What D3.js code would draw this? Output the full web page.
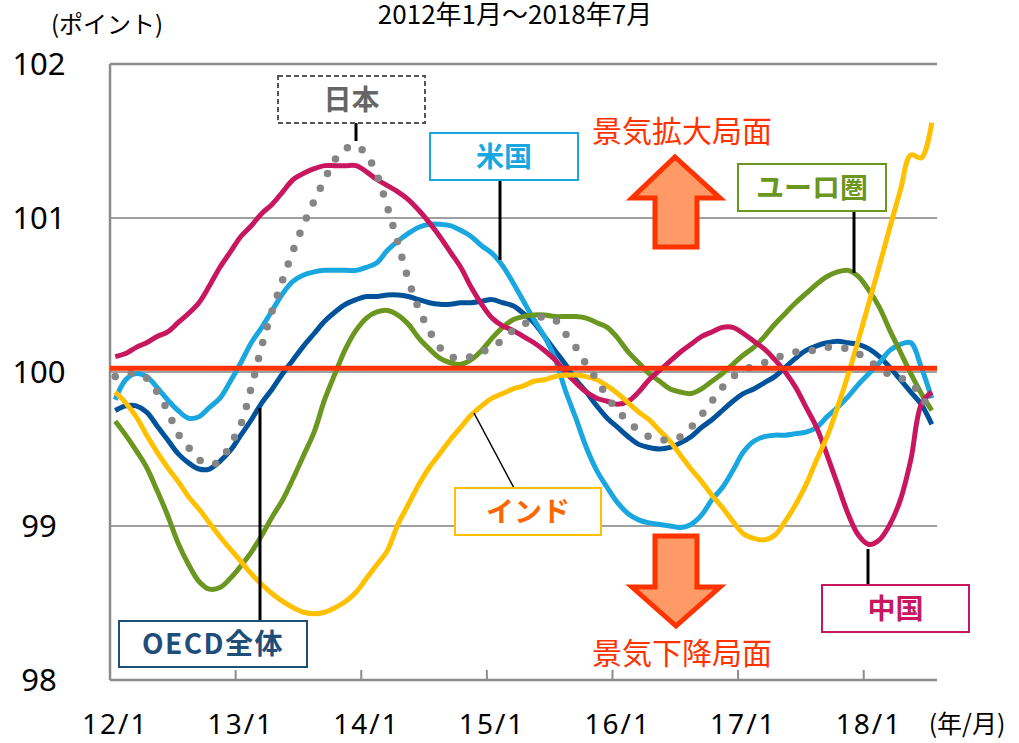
<!DOCTYPE html>
<html>
<head>
<meta charset="utf-8">
<script src="https://cdn.jsdelivr.net/npm/d3@7"></script>
<style>
  body { margin: 0; background: #fff; }
  svg { display: block; }
</style>
</head>
<body>
<div id="chart"></div>
<script>
// monthly composite leading indicators, 2012/1 - 2018/7
var months = d3.timeMonth.range(new Date(2012, 0, 1), new Date(2018, 7, 1));
var tickLabels = ["12/1", "13/1", "14/1", "15/1", "16/1", "17/1", "18/1"];
var yTicks = [98, 99, 100, 101, 102];

var japan = [99.97,99.99,99.99,99.96,99.87,99.75,99.60,99.51,99.43,99.40,
  99.42,99.53,99.66,99.90,100.17,100.40,100.60,100.79,100.96,101.11,
  101.25,101.38,101.45,101.47,101.41,101.28,101.07,100.84,100.60,100.41,
  100.27,100.16,100.10,100.09,100.10,100.13,100.16,100.21,100.27,100.31,
  100.34,100.36,100.34,100.25,100.16,100.05,99.95,99.84,99.75,99.68,
  99.62,99.58,99.56,99.56,99.58,99.64,99.72,99.81,99.90,99.97,
  100.01,100.04,100.06,100.09,100.11,100.13,100.14,100.14,100.16,100.16,
  100.15,100.12,100.07,100.03,99.98,99.96,99.93,99.84,99.74];

var us = [99.82,99.95,99.99,99.97,99.90,99.82,99.75,99.70,99.71,99.77,
  99.83,99.94,100.06,100.19,100.29,100.40,100.51,100.59,100.63,100.65,
  100.66,100.66,100.66,100.66,100.68,100.71,100.79,100.85,100.90,100.94,
  100.96,100.96,100.95,100.92,100.88,100.82,100.77,100.69,100.58,100.46,
  100.34,100.23,100.09,99.88,99.70,99.51,99.36,99.25,99.15,99.08,
  99.04,99.02,99.01,99.00,98.99,99.01,99.07,99.17,99.25,99.36,
  99.48,99.55,99.58,99.59,99.59,99.60,99.61,99.64,99.71,99.77,
  99.84,99.92,99.99,100.06,100.14,100.18,100.19,100.03,99.83];

var oecd = [99.75,99.78,99.78,99.74,99.65,99.56,99.47,99.41,99.37,99.37,
  99.42,99.49,99.59,99.69,99.80,99.89,99.99,100.08,100.17,100.25,
  100.33,100.39,100.44,100.47,100.49,100.49,100.50,100.50,100.49,100.47,
  100.45,100.44,100.44,100.45,100.45,100.46,100.47,100.45,100.43,100.38,
  100.32,100.23,100.14,100.05,99.95,99.87,99.78,99.70,99.64,99.58,
  99.53,99.51,99.50,99.51,99.54,99.58,99.64,99.69,99.75,99.81,
  99.86,99.89,99.93,99.97,100.03,100.09,100.14,100.17,100.19,100.20,
  100.19,100.18,100.15,100.10,100.03,99.95,99.87,99.79,99.66];

var euro = [99.68,99.59,99.49,99.38,99.23,99.07,98.89,98.75,98.64,98.59,
  98.60,98.66,98.74,98.83,98.94,99.06,99.17,99.31,99.46,99.61,
  99.82,99.99,100.15,100.27,100.35,100.39,100.40,100.37,100.31,100.22,
  100.15,100.09,100.06,100.05,100.08,100.14,100.22,100.29,100.34,100.36,
  100.37,100.37,100.36,100.36,100.36,100.35,100.32,100.29,100.22,100.13,
  100.06,99.99,99.94,99.89,99.87,99.86,99.89,99.94,99.99,100.05,
  100.11,100.16,100.23,100.31,100.38,100.45,100.51,100.57,100.62,100.65,
  100.66,100.62,100.53,100.42,100.27,100.13,99.99,99.86,99.75];

var india = [99.87,99.80,99.71,99.59,99.48,99.38,99.29,99.19,99.11,99.02,
  98.93,98.85,98.77,98.69,98.62,98.56,98.51,98.47,98.44,98.43,
  98.44,98.47,98.51,98.57,98.66,98.75,98.84,99.01,99.14,99.27,
  99.38,99.47,99.56,99.64,99.72,99.78,99.83,99.86,99.89,99.91,
  99.94,99.95,99.97,99.98,99.98,99.97,99.95,99.91,99.86,99.80,
  99.74,99.69,99.62,99.55,99.46,99.37,99.29,99.20,99.12,99.03,
  98.95,98.92,98.91,98.94,99.03,99.14,99.27,99.43,99.58,99.77,
  99.98,100.21,100.45,100.69,100.94,101.18,101.41,101.39,101.62];

var china = [100.10,100.12,100.16,100.19,100.23,100.26,100.32,100.38,100.45,100.56,
  100.68,100.78,100.88,100.95,101.03,101.09,101.17,101.25,101.29,101.32,
  101.34,101.34,101.34,101.34,101.30,101.25,101.21,101.17,101.12,101.05,
  100.97,100.88,100.78,100.68,100.55,100.44,100.35,100.30,100.27,100.23,
  100.19,100.14,100.08,100.00,99.93,99.87,99.83,99.81,99.79,99.81,
  99.87,99.95,100.01,100.07,100.13,100.18,100.23,100.26,100.29,100.29,
  100.25,100.20,100.15,100.08,100.00,99.90,99.77,99.64,99.46,99.27,
  99.08,98.94,98.88,98.91,99.01,99.17,99.43,99.79,99.87];

var refLevel = 100.025;

// set the dimensions and margins of the graph
var margin = { top: 64, right: 82, bottom: 63, left: 110 },
   width = 1019 - margin.left - margin.right,
   height = 743 - margin.top - margin.bottom;

var svg = d3.select("#chart")
   .append("svg")
   .attr("width", 1019)
   .attr("height", 743)
   .style("font-family", "'Noto Sans CJK JP', 'Noto Sans', sans-serif");

var g = svg.append("g")
   .attr("transform", "translate(" + margin.left + "," + margin.top + ")");

// category axis: each month sits in the middle of its slot
var x = d3.scaleLinear()
   .domain([-0.5, months.length - 0.5])
   .range([0, width]);

var y = d3.scaleLinear()
   .domain([98, 102])
   .range([height, 0]);

// gridlines
g.selectAll(".grid")
   .data(yTicks.slice(1))
   .enter().append("line")
   .attr("x1", 0).attr("x2", width)
   .attr("y1", d => y(d)).attr("y2", d => y(d))
   .attr("stroke", d => d === 102 ? "#8c8c8c" : "#a0a0a0")
   .attr("stroke-width", d => d === 102 ? 2.5 : 2);

// frame (left + bottom)
g.append("line").attr("x1", 0).attr("x2", 0).attr("y1", 0).attr("y2", height)
   .attr("stroke", "#8c8c8c").attr("stroke-width", 2.5);
g.append("line").attr("x1", 0).attr("x2", width).attr("y1", height).attr("y2", height)
   .attr("stroke", "#8c8c8c").attr("stroke-width", 2.5);

// bottom ticks, pointing inwards, at year boundaries
var yearIdx = tickLabels.map((d, i) => i * 12);
g.selectAll(".tick")
   .data(yearIdx.slice(1))
   .enter().append("line")
   .attr("x1", d => x(d - 0.5)).attr("x2", d => x(d - 0.5))
   .attr("y1", height).attr("y2", height - 10)
   .attr("stroke", "#8c8c8c").attr("stroke-width", 2);

// y labels
svg.selectAll(".ylab")
   .data(yTicks)
   .enter().append("text")
   .attr("x", 39)
   .attr("y", d => margin.top + y(d))
   .attr("dy", "0.36em")
   .attr("text-anchor", "middle")
   .style("font-family", "'Noto Sans', sans-serif")
   .style("font-size", "31px")
   .attr("fill", "#000")
   .text(d => d);

// x labels
svg.selectAll(".xlab")
   .data(tickLabels)
   .enter().append("text")
   .attr("x", (d, i) => margin.left + x(yearIdx[i]))
   .attr("y", 734)
   .attr("text-anchor", "middle")
   .style("font-family", "'Noto Sans', sans-serif")
   .style("font-size", "28px")
   .style("letter-spacing", "2px")
   .attr("fill", "#000")
   .text(d => d);

svg.append("text").attr("x", 967).attr("y", 733).attr("text-anchor", "middle")
   .style("font-size", "25px").text("(年/月)");
svg.append("text").attr("x", 107).attr("y", 33).attr("text-anchor", "middle")
   .style("font-size", "24px").text("(ポイント)");
svg.append("text").attr("x", 515).attr("y", 24).attr("text-anchor", "middle")
   .style("font-size", "26px").text("2012年1月～2018年7月");

// series lines
var line = d3.line()
   .x((d, i) => x(i))
   .y(d => y(d))
   .curve(d3.curveCatmullRom.alpha(0.5));

var series = [
   { name: "oecd", values: oecd, color: "#00529b" },
   { name: "us", values: us, color: "#1aa7e0" },
   { name: "euro", values: euro, color: "#6b961f" },
   { name: "china", values: china, color: "#c8175e" },
   { name: "india", values: india, color: "#ffc000" }
];

series.forEach(function (s) {
   g.append("path")
      .datum(s.values)
      .attr("d", line)
      .attr("fill", "none")
      .attr("stroke", s.color)
      .attr("stroke-width", 5)
      .attr("stroke-linejoin", "round");
});

// japan, dotted
g.append("path")
   .datum(japan)
   .attr("d", line)
   .attr("fill", "none")
   .attr("stroke", "#858585")
   .attr("stroke-width", 7.5)
   .attr("stroke-linecap", "round")
   .attr("stroke-dasharray", "0 16.5");

// reference line at 100
g.append("line")
   .attr("x1", 0).attr("x2", width)
   .attr("y1", y(refLevel)).attr("y2", y(refLevel))
   .attr("stroke", "#ff3300")
   .attr("stroke-width", 5);

// connectors
var connectors = [
   [356, 123, 356, 141, 3],
   [500, 180, 500, 260, 3],
   [854, 211, 854, 273, 3],
   [474, 413, 514, 488, 1.5],
   [868, 549, 868, 585, 3],
   [260, 408, 260, 621, 3]
];
svg.selectAll(".conn")
   .data(connectors)
   .enter().append("line")
   .attr("x1", d => d[0]).attr("y1", d => d[1])
   .attr("x2", d => d[2]).attr("y2", d => d[3])
   .attr("stroke", "#000")
   .attr("stroke-width", d => d[4]);

// label boxes
var labels = [
   { text: "日本", x: 278, y: 76, w: 147, h: 47, stroke: "#555", fill: "#666", dash: "5,3" },
   { text: "米国", x: 430, y: 133, w: 148, h: 47, stroke: "#1aa7e0", fill: "#1aa7e0" },
   { text: "ユーロ圏", x: 738, y: 164, w: 148, h: 47, stroke: "#6b961f", fill: "#6b961f" },
   { text: "インド", x: 455, y: 488, w: 146, h: 47, stroke: "#ffc000", fill: "#ff6600" },
   { text: "中国", x: 822, y: 585, w: 147, h: 47, stroke: "#c8175e", fill: "#c8175e" },
   { text: "OECD全体", x: 119, y: 621, w: 188, h: 46, stroke: "#1f4e79", fill: "#1f4e79" }
];
labels.forEach(function (l) {
   svg.append("rect")
      .attr("x", l.x).attr("y", l.y)
      .attr("width", l.w).attr("height", l.h)
      .attr("fill", "#fff")
      .attr("stroke", l.stroke)
      .attr("stroke-width", 2)
      .attr("stroke-dasharray", l.dash || null);
   svg.append("text")
      .attr("x", l.x + l.w / 2)
      .attr("y", l.y + l.h / 2)
      .attr("dy", "0.36em")
      .attr("text-anchor", "middle")
      .style("font-size", "28px")
      .style("font-weight", "700")
      .style("letter-spacing", l.text === "OECD全体" ? "1.5px" : "0px")
      .attr("fill", l.fill)
      .text(l.text);
});

// phase arrows
var upArrow = [[675, 157], [720, 198], [697, 198], [697, 247], [655, 247], [655, 198], [632, 198]];
var downArrow = [[655, 536], [697, 536], [697, 587], [720, 587], [676, 626], [632, 587], [655, 587]];
[upArrow, downArrow].forEach(function (pts) {
   svg.append("path")
      .attr("d", "M" + pts.join("L") + "Z")
      .attr("fill", "#ff9966")
      .attr("stroke", "#ff3300")
      .attr("stroke-width", 5)
      .attr("stroke-linejoin", "miter");
});

svg.append("text").attr("x", 682).attr("y", 142).attr("text-anchor", "middle")
   .style("font-size", "30px").attr("fill", "#ff3300").text("景気拡大局面");
svg.append("text").attr("x", 682).attr("y", 664).attr("text-anchor", "middle")
   .style("font-size", "30px").attr("fill", "#ff3300").text("景気下降局面");
</script>
</body>
</html>
